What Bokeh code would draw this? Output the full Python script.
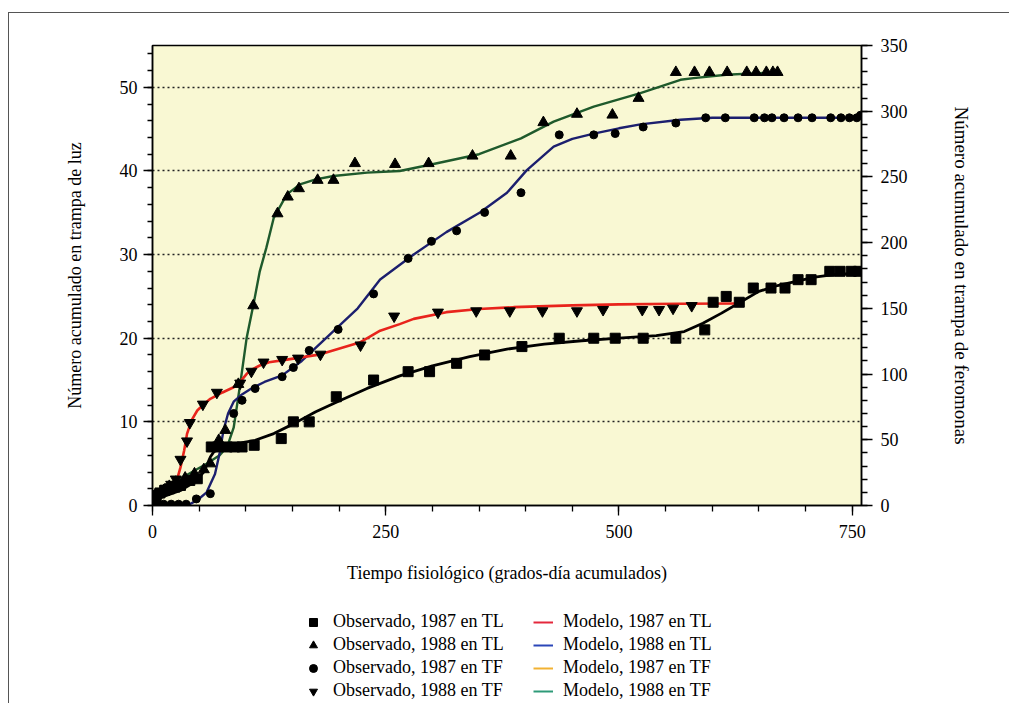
from bokeh.plotting import figure
from bokeh.layouts import column
from bokeh.models import Range1d, LinearAxis, FixedTicker, Legend, LegendItem
from bokeh.embed import file_html
from bokeh.resources import INLINE

FONT = "Liberation Serif"

# ---------------- data ----------------
# Observado, 1987 en TL (left axis)
sq_x = [1, 4, 8, 13, 18, 24, 30, 40, 48, 63, 70, 80, 88, 96, 109, 138, 151, 168, 197, 237,
        274, 297, 326, 356, 396, 436, 473, 496, 526, 561, 592, 601, 615, 629, 644, 663, 678,
        692, 706, 726, 737, 749, 757]
sq_y = [0.8, 1.2, 1.5, 1.8, 2.0, 2.2, 2.4, 3.0, 3.2, 7.0, 7.0, 7.0, 7.0, 7.0, 7.2, 8.0, 10.0,
        10.0, 13.0, 15.0, 16.0, 16.0, 17.0, 18.0, 19.0, 20.0, 20.0, 20.0, 20.0, 20.0, 21.0,
        24.3, 25.0, 24.3, 26.0, 26.0, 26.0, 27.0, 27.0, 28.0, 28.0, 28.0, 28.0]
# Observado, 1988 en TL (left axis)
tr_x = [2, 6, 12, 18, 25, 35, 45, 55, 62, 71, 78, 92, 108, 134, 145, 157, 177, 194, 217, 260,
        296, 343, 384, 419, 455, 493, 521, 561, 581, 597, 616, 637, 647, 658, 665, 670]
tr_y = [0.8, 1.3, 1.8, 2.3, 2.8, 3.3, 3.8, 4.3, 5.0, 7.8, 9.0, 14.5, 23.9, 34.9, 36.9, 37.9,
        38.9, 38.9, 40.9, 40.8, 40.9, 41.8, 41.8, 45.8, 46.8, 46.7, 48.7, 51.8, 51.8, 51.8,
        51.8, 51.8, 51.8, 51.8, 51.8, 51.8]
# Observado, 1987 en TF (right axis)
ci_x = [2, 6, 12, 20, 28, 36, 47, 62, 87, 96, 110, 139, 151, 168, 199, 237, 274, 299, 326,
        356, 395, 436, 473, 496, 526, 561, 593, 614, 645, 656, 664, 677, 692, 707, 727, 738,
        747, 755, 759]
ci_y = [2, 1, 1, 1, 1, 1, 5, 9, 70, 80, 89, 98, 105, 118, 134, 161, 188, 201, 209, 223, 238,
        282, 282, 283, 288, 291, 295, 295, 295, 295, 295, 295, 295, 295, 295, 295, 295, 295, 297]
# Observado, 1988 en TF (right axis)
it_x = [1, 4, 8, 14, 20, 25, 30, 37, 40, 54, 69, 94, 106, 119, 139, 156, 180, 223, 259, 306,
        347, 383, 418, 455, 483, 525, 543, 558, 578]
it_y = [5, 8, 10, 13, 16, 20, 35, 49, 63, 77, 86, 93, 102, 109, 111, 112, 115, 122, 144, 147,
        148, 148, 148, 148, 149, 149, 149, 150, 152]

# Model curves
bm_x = [0, 15, 30, 45, 55, 62, 68, 75, 90, 110, 130, 150, 175, 200, 230, 265, 300, 340, 380,
        420, 460, 500, 540, 570, 590, 610, 630, 650, 670, 690, 710, 730, 760]
bm_y = [0.6, 1.2, 1.8, 2.8, 4.0, 5.8, 6.8, 7.2, 7.4, 7.8, 8.6, 9.7, 11.2, 12.5, 14.0, 15.5,
        16.7, 17.8, 18.7, 19.3, 19.7, 20.0, 20.3, 20.8, 21.8, 23.0, 24.3, 25.6, 26.3, 26.8,
        27.3, 27.6, 27.8]
gm_x = [0, 15, 33, 58, 72, 80, 87, 94, 101, 108, 115, 122, 130, 144, 158, 175, 194, 230, 265,
        300, 350, 395, 430, 473, 523, 566, 580, 615, 650, 672]
gm_y = [0.8, 2.2, 3.4, 5.0, 6.0, 7.0, 9.3, 14.5, 20.1, 23.9, 28.0, 30.8, 34.4, 37.2, 38.4,
        39.0, 39.4, 39.8, 40.0, 40.8, 42.0, 43.9, 45.9, 47.7, 49.3, 50.9, 51.1, 51.5, 51.7, 51.8]
blm_x = [0, 20, 40, 48, 58, 67, 72, 76, 81, 87, 95, 106, 120, 139, 160, 190, 220, 244, 280,
         315, 351, 380, 401, 430, 450, 473, 500, 523, 566, 600, 650, 700, 760]
blm_y = [0, 0, 1, 4, 10, 24, 40, 57, 70, 79, 84, 89, 94, 99, 110, 130, 150, 172, 191, 208,
         223, 238, 255, 273, 279, 283, 287, 290, 293.5, 295, 295, 295, 295]
rm_x = [0, 10, 20, 26, 30, 34, 37, 42, 48, 55, 62, 75, 87, 95, 101, 108, 115, 125, 144, 180,
        222, 244, 265, 280, 315, 350, 387, 450, 500, 565, 629]
rm_y = [4, 8, 14, 19, 29, 42, 54.5, 65, 72.3, 77, 81.2, 86, 90, 95, 100.2, 104, 106.5, 109,
        111, 115, 124, 133, 138, 142, 147.1, 149.5, 150.9, 152.3, 153, 153.5, 153.7]

x_ticks = [0, 250, 500, 750]
left_ticks = [0, 10, 20, 30, 40, 50]
right_ticks = [0, 50, 100, 150, 200, 250, 300, 350]

obs_labels = ["Observado, 1987 en TL", "Observado, 1988 en TL",
              "Observado, 1987 en TF", "Observado, 1988 en TF"]
obs_markers = ["square", "triangle", "circle", "inverted_triangle"]
mod_labels = ["Modelo, 1987 en TL", "Modelo, 1988 en TL",
              "Modelo, 1987 en TF", "Modelo, 1988 en TF"]
mod_colors = ["#e4283c", "#2b46b8", "#f2b233", "#2e9a78"]

obs_data = [(sq_x, sq_y), (tr_x, tr_y), (ci_x, ci_y), (it_x, it_y)]
mod_data = [(bm_x, bm_y), (gm_x, gm_y), (blm_x, blm_y), (rm_x, rm_y)]

# ---------------- main figure ----------------
p = figure(width=1000, height=580, output_backend="svg", toolbar_location=None,
           x_range=Range1d(0, 760), y_range=Range1d(0, 55),
           min_border_left=143, min_border_right=148, min_border_top=32,
           min_border_bottom=88, background_fill_color="#f9f8d3",
           border_fill_color="white")
p.extra_y_ranges = {"right": Range1d(0, 350)}
p.outline_line_color = "black"
p.outline_line_width = 1.5

p.xgrid.visible = False
p.ygrid.ticker = FixedTicker(ticks=[10, 20, 30, 40, 50])
p.ygrid.grid_line_color = "#222222"
p.ygrid.grid_line_dash = "2 3"
p.ygrid.grid_line_width = 1.3


def style_axis(ax, tick_out, minor_out, standoff, label_standoff):
    ax.axis_line_color = "black"
    ax.axis_line_width = 1.5
    ax.major_tick_line_color = "black"
    ax.minor_tick_line_color = "black"
    ax.major_tick_line_width = 1.3
    ax.minor_tick_line_width = 1.3
    ax.major_tick_in = 0
    ax.minor_tick_in = 0
    ax.major_tick_out = tick_out
    ax.minor_tick_out = minor_out
    ax.major_label_standoff = standoff
    ax.axis_label_standoff = label_standoff
    ax.major_label_text_font = FONT
    ax.major_label_text_font_size = "18px"
    ax.major_label_text_color = "black"
    ax.axis_label_text_font = FONT
    ax.axis_label_text_font_size = "18px"
    ax.axis_label_text_font_style = "normal"
    ax.axis_label_text_color = "black"


xa = p.xaxis[0]
xa.ticker = FixedTicker(ticks=x_ticks, minor_ticks=list(range(0, 761, 50)))
xa.axis_label = "Tiempo fisiológico (grados-día acumulados)"
style_axis(xa, 10, 6, 9, 22)

ya = p.yaxis[0]
ya.ticker = FixedTicker(ticks=left_ticks, minor_ticks=list(range(0, 56, 2)))
ya.axis_label = "Número acumulado en trampa de luz"
style_axis(ya, 9, 5, 6, 32)

ra = LinearAxis(y_range_name="right",
                axis_label="Número acumulado en trampa de feromonas")
ra.ticker = FixedTicker(ticks=right_ticks, minor_ticks=list(range(0, 351, 10)))
style_axis(ra, 11, 6, 8, 40)
ra.axis_label_text_font_size = "19px"
p.add_layout(ra, "right")

# model lines
p.line(bm_x, bm_y, color="black", line_width=2.8)
p.line(gm_x, gm_y, color="#1f5a2c", line_width=2.4)
p.line(blm_x, blm_y, color="#1c1f6e", line_width=2.4, y_range_name="right")
p.line(rm_x, rm_y, color="#e8241c", line_width=2.6, y_range_name="right")

# observations
p.scatter(sq_x, sq_y, marker="square", size=10, color="black")
p.scatter(tr_x, tr_y, marker="triangle", size=11, color="black")
p.scatter(ci_x, ci_y, marker="circle", size=8, color="black", y_range_name="right")
p.scatter(it_x, it_y, marker="inverted_triangle", size=11, color="black",
          y_range_name="right")

# ---------------- legend strip ----------------
# the series are drawn here too, but the ranges keep them out of view: only the legend shows
q = figure(width=1000, height=110, output_backend="svg", toolbar_location=None,
           x_range=Range1d(-2, -1), y_range=Range1d(-2, -1),
           x_axis_location=None, y_axis_location=None,
           min_border_left=0, min_border_right=0, min_border_top=0, min_border_bottom=0,
           background_fill_color="white", border_fill_color="white")
q.outline_line_color = None
q.grid.visible = False

obs_r = [q.scatter(dx, dy, marker=m, size=9, color="black")
         for m, (dx, dy) in zip(obs_markers, obs_data)]
mod_r = [q.line(dx, dy, color=c, line_width=2) for c, (dx, dy) in zip(mod_colors, mod_data)]


def make_legend(labels, renderers, loc):
    return Legend(items=[LegendItem(label=l, renderers=[r]) for l, r in zip(labels, renderers)],
                  location=loc, orientation="vertical", glyph_width=20, glyph_height=20,
                  spacing=2, padding=0, margin=0, label_standoff=10,
                  border_line_color=None, background_fill_alpha=0,
                  label_text_font=FONT, label_text_font_size="18px",
                  label_text_color="black")


q.add_layout(make_legend(obs_labels, obs_r, (151, 2)))
q.add_layout(make_legend(mod_labels, mod_r, (381, 2)))

page = column(p, q, spacing=0,
              styles={"margin-left": "8px", "margin-top": "12px",
                      "border-left": "1px solid #555", "border-top": "1px solid #555"})

open("out.html", "w").write(file_html(page, INLINE))
